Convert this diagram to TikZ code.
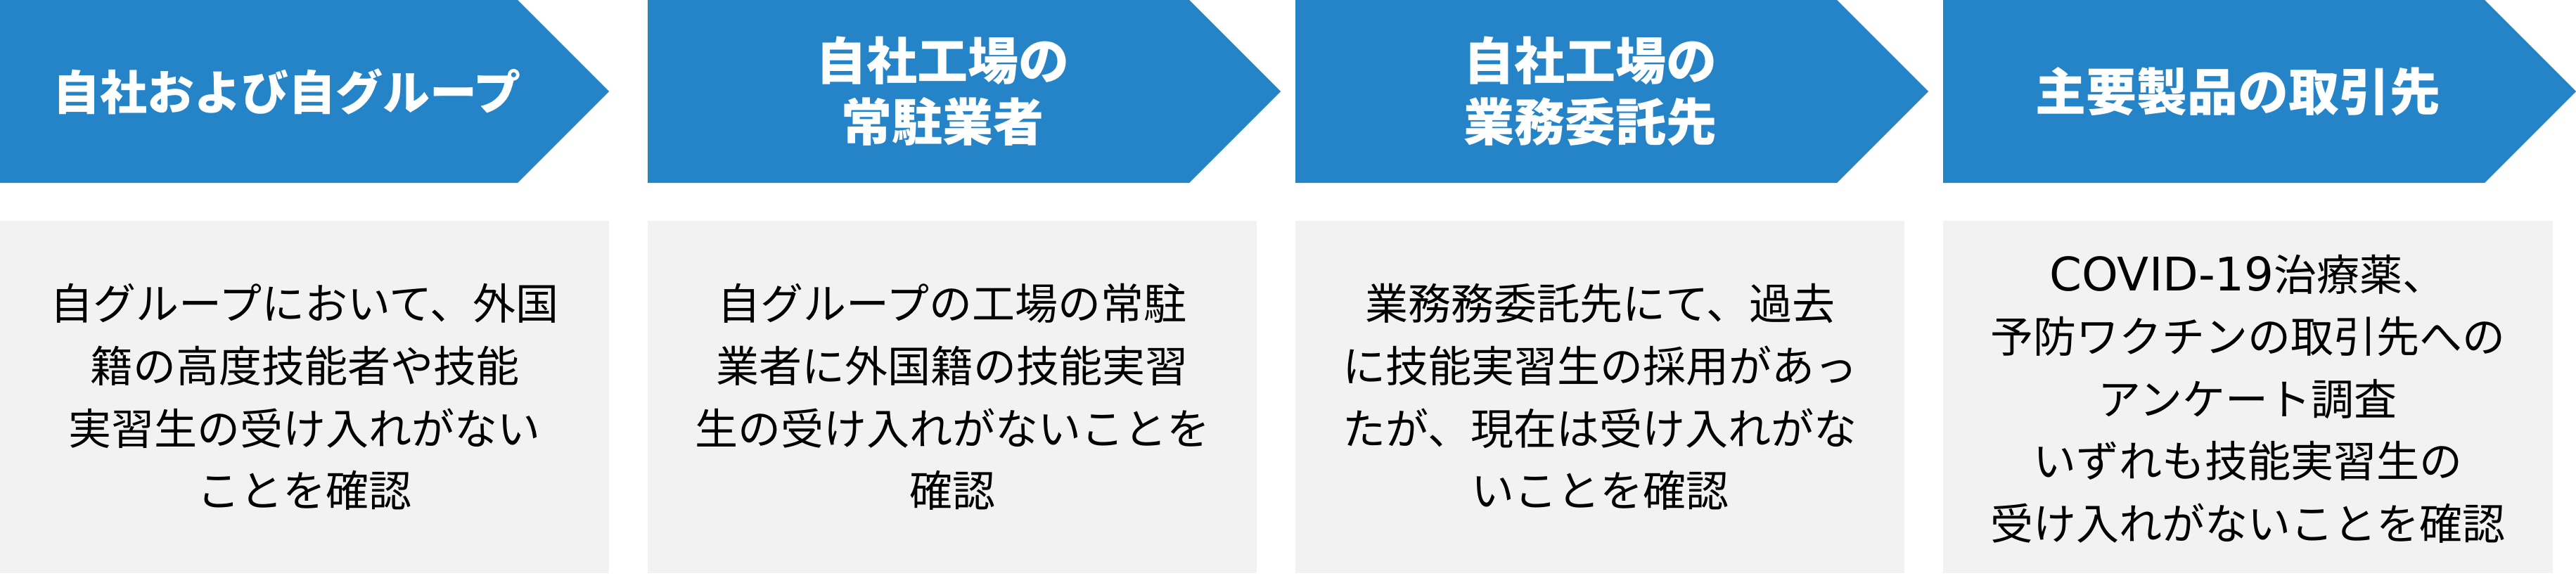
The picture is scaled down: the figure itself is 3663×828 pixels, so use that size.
\documentclass[tikz,border=0pt]{standalone}
\usepackage{fontspec}
\setmainfont{Noto Sans CJK JP}
\newfontfamily\latinfont{DejaVu Sans}[Scale=1.08]
\definecolor{chevblue}{HTML}{2584C7}
\definecolor{boxgray}{HTML}{F2F2F2}
\begin{document}
\begin{tikzpicture}[x=1pt,y=-1pt,
  title/.style={text=white, font=\bfseries\fontsize{72}{87}\selectfont, align=center, inner sep=0pt},
  body/.style={text=black, font=\fontsize{61}{88.6}\selectfont, align=center, inner sep=0pt},
  chev/.style={fill=chevblue},
  panel/.style={fill=boxgray}]
\fill[white] (0,0) rectangle (3663,828);
\useasboundingbox (0,0) rectangle (3663,828);
% chevrons
\fill[chev] (0,0) -- (736,0) -- (866,130) -- (736,260) -- (0,260) -- cycle;
\fill[chev] (921,0) -- (1691,0) -- (1821,130) -- (1691,260) -- (921,260) -- cycle;
\fill[chev] (1842,0) -- (2612,0) -- (2742,130) -- (2612,260) -- (1842,260) -- cycle;
\fill[chev] (2763,0) -- (3533,0) -- (3663,130) -- (3533,260) -- (2763,260) -- cycle;
% panels
\fill[panel] (0,314) rectangle (866,815);
\fill[panel] (921,314) rectangle (1787,815);
\fill[panel] (1842,314) rectangle (2708,815);
\fill[panel] (2763,314) rectangle (3630,815);
% titles
\node[title, font=\bfseries\fontsize{67}{87}\selectfont] (t1) at (408,130) {自社および自グループ};
\node[title] (t2) at (1340,130) {自社工場の\\常駐業者};
\node[title] (t3) at (2261,130) {自社工場の\\業務委託先};
\node[title] (t4) at (3182,130) {主要製品の取引先};
% bodies
\node[body] (b1) at (433,564.5) {自グループにおいて、外国\\籍の高度技能者や技能\\実習生の受け入れがない\\ことを確認};
\node[body] (b2) at (1354,564.5) {自グループの工場の常駐\\業者に外国籍の技能実習\\生の受け入れがないことを\\確認};
\node[body] (b3) at (2275,564.5) {業務務委託先にて、過去\\に技能実習生の採用があっ\\たが、現在は受け入れがな\\いことを確認};
\node[body] (b4) at (3196,567) {{\latinfont COVID-19}治療薬、\\予防ワクチンの取引先への\\アンケート調査\\いずれも技能実習生の\\受け入れがないことを確認};
\end{tikzpicture}
\end{document}
